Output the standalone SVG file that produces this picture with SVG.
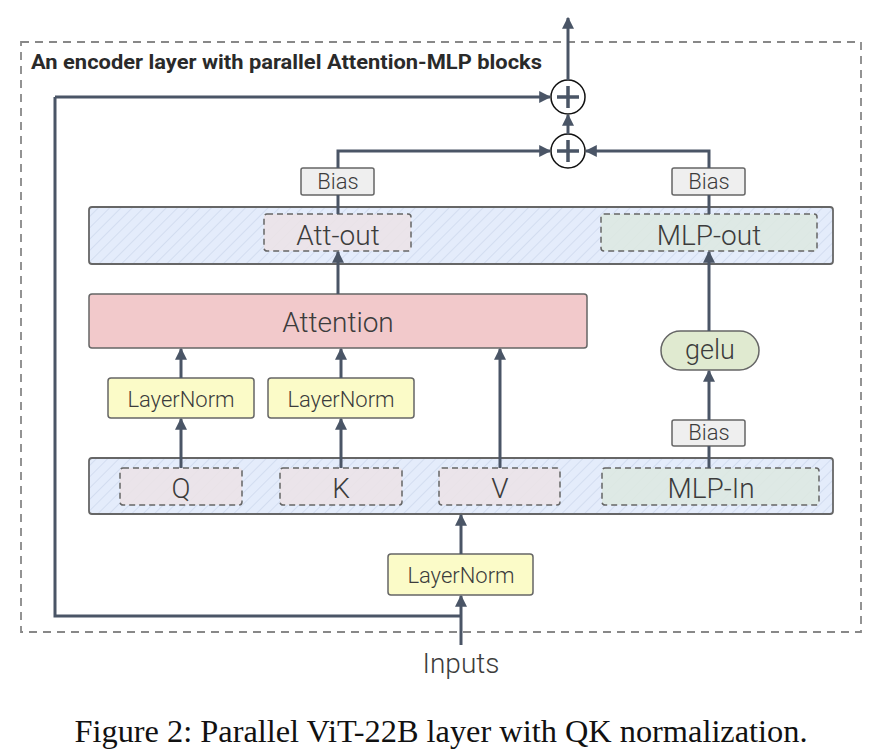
<svg xmlns="http://www.w3.org/2000/svg" width="881" height="755" viewBox="0 0 881 755">
<defs>
<pattern id="hatch" patternUnits="userSpaceOnUse" width="8" height="8" patternTransform="rotate(45)">
<rect width="8" height="8" fill="#e4ecfb"/>
<line x1="0" y1="0" x2="0" y2="8" stroke="#d3ddf0" stroke-width="2"/>
</pattern>
<marker id="arr" viewBox="0 0 10 10" refX="9" refY="5" markerWidth="4" markerHeight="4" orient="auto" markerUnits="strokeWidth">
<path d="M0,0 L10,5 L0,10 z" fill="#4a5566"/>
</marker>
</defs>
<style>
.t{font-family:Roboto,"Liberation Sans",sans-serif;font-weight:300;fill:#3c3c3c;text-anchor:middle}
.band{fill:url(#hatch);stroke:#666;stroke-width:1.8}
.qkv{fill:#ece3e6;fill-opacity:0.85;stroke:#666;stroke-width:1.5;stroke-dasharray:6,4}
.mlp{fill:#dde9e1;fill-opacity:0.85;stroke:#666;stroke-width:1.5;stroke-dasharray:6,4}
.ln{fill:#fbfbc8;stroke:#666;stroke-width:1.5}
.bias{fill:#efefef;stroke:#666;stroke-width:1.5}
.c{fill:none;stroke:#4a5566;stroke-width:3}
.ca{fill:none;stroke:#4a5566;stroke-width:3;marker-end:url(#arr)}
</style>
<rect x="21" y="42" width="840" height="590" fill="none" stroke="#888" stroke-width="1.8" stroke-dasharray="8,6"/>
<text x="31" y="69" textLength="511" lengthAdjust="spacingAndGlyphs" style="font-family:Roboto,'Liberation Sans',sans-serif;font-weight:700;font-size:20px;fill:#2a2a2a">An encoder layer with parallel Attention-MLP blocks</text>

<g id="band-top">
<rect class="band" x="89" y="207" width="744" height="57" rx="3"/>
</g>
<g id="att-out"><rect class="qkv" x="264" y="214" width="147" height="37" rx="3"/><text class="t" x="338" y="245" font-size="28">Att-out</text></g>
<g id="mlp-out"><rect class="mlp" x="601" y="214" width="216" height="37" rx="3"/><text class="t" x="709" y="245" font-size="28">MLP-out</text></g>

<g id="band-bottom">
<rect class="band" x="89" y="458" width="744" height="56" rx="3"/>
</g>
<g id="q"><rect class="qkv" x="120" y="468" width="122" height="37" rx="3"/><text class="t" x="181" y="498" font-size="28">Q</text></g>
<g id="k"><rect class="qkv" x="280" y="468" width="122" height="37" rx="3"/><text class="t" x="341" y="498" font-size="28">K</text></g>
<g id="v"><rect class="qkv" x="439" y="468" width="121" height="37" rx="3"/><text class="t" x="500" y="498" font-size="28">V</text></g>
<g id="mlp-in"><rect class="mlp" x="602" y="468" width="217" height="37" rx="3"/><text class="t" x="711" y="498" font-size="28">MLP-In</text></g>

<g id="attention"><rect x="89" y="294" width="498" height="54" rx="3" fill="#f2c9cb" stroke="#666" stroke-width="1.5"/><text class="t" x="338" y="332" font-size="28">Attention</text></g>

<g id="ln-q"><rect class="ln" x="108" y="378" width="146" height="40" rx="3"/><text class="t" x="181" y="407" font-size="22">LayerNorm</text></g>
<g id="ln-k"><rect class="ln" x="268" y="378" width="146" height="40" rx="3"/><text class="t" x="341" y="407" font-size="22">LayerNorm</text></g>
<g id="ln-in"><rect class="ln" x="388" y="554" width="145" height="41" rx="3"/><text class="t" x="461" y="583" font-size="22">LayerNorm</text></g>

<g id="gelu"><rect x="661" y="331" width="98" height="39" rx="19.5" fill="#e0ead0" stroke="#666" stroke-width="1.5"/><text class="t" x="710" y="359" font-size="27">gelu</text></g>

<g id="bias-att"><rect class="bias" x="301" y="168" width="73" height="27" rx="2"/><text class="t" x="338" y="189" font-size="22">Bias</text></g>
<g id="bias-mlp-out"><rect class="bias" x="672" y="168" width="73" height="27" rx="2"/><text class="t" x="709" y="189" font-size="22">Bias</text></g>
<g id="bias-mlp-in"><rect class="bias" x="672" y="420" width="73" height="26" rx="2"/><text class="t" x="709" y="440" font-size="22">Bias</text></g>

<g id="add1"><circle cx="568" cy="151" r="17" fill="#fff" stroke="#111" stroke-width="1.5"/><path d="M557,151H579M568,140V162" stroke="#4a5566" stroke-width="3.5"/></g>
<g id="add2"><circle cx="568" cy="97" r="17" fill="#fff" stroke="#111" stroke-width="1.5"/><path d="M557,97H579M568,86V108" stroke="#4a5566" stroke-width="3.5"/></g>

<text class="t" x="461" y="673" font-size="28">Inputs</text>
<text x="441" y="742" text-anchor="middle" textLength="733" lengthAdjust="spacingAndGlyphs" style="font-family:'Liberation Serif',serif;font-size:31px;fill:#111">Figure 2: Parallel ViT-22B layer with QK normalization.</text>

<g id="connectors">
<path class="ca" d="M568,80V18"/>
<path class="ca" d="M568,134V115"/>
<path class="ca" d="M461,645V596"/>
<path class="c" d="M461,616H55V97"/>
<path class="ca" d="M55,97H550"/>
<path class="ca" d="M461,554V515"/>
<path class="ca" d="M181,468V419"/>
<path class="ca" d="M341,468V419"/>
<path class="ca" d="M181,378V349"/>
<path class="ca" d="M341,378V349"/>
<path class="ca" d="M500,468V349"/>
<path class="ca" d="M338,294V252"/>
<path class="c" d="M338,214V195"/>
<path class="ca" d="M338,168V151H550"/>
<path class="c" d="M709,214V195"/>
<path class="ca" d="M709,168V151H586"/>
<path class="c" d="M709,468V446"/>
<path class="ca" d="M709,420V371"/>
<path class="ca" d="M709,331V252"/>
</g>
</svg>
